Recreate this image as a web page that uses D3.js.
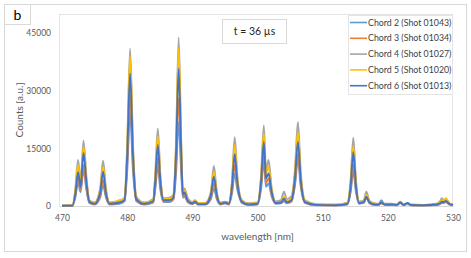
<!DOCTYPE html>
<html>
<head>
<meta charset="utf-8">
<script src="https://cdn.jsdelivr.net/npm/d3@7"></script>
<style>
  body { margin: 0; background: #fff; }
  svg text { font-family: Lato, "Open Sans", sans-serif; fill: #404040; }
</style>
</head>
<body>
<div id="result"></div>
<script>
// wavelength nodes (nm), shared by all series
const wavelength = [
  470.0, 471.6, 472.05, 472.46, 472.85, 473.3, 473.75, 474.2, 475.0, 475.85,
  476.3, 476.75, 477.3, 478.8, 479.6, 480.0, 480.45, 480.9, 481.4, 482.6,
  484.0, 484.3, 484.7, 485.1, 485.6, 486.5, 487.1, 487.5, 487.9, 488.3,
  488.55, 488.8, 489.3, 490.0, 490.4, 490.9, 492.0, 492.85, 493.3, 493.75,
  494.3, 495.0, 495.6, 496.1, 496.5, 496.9, 497.1, 497.6, 498.6, 500.0,
  500.55, 500.97, 501.3, 501.7, 502.15, 502.8, 503.6, 504.05, 504.5, 505.2,
  505.75, 506.2, 506.65, 507.3, 509.0, 512.0, 513.8, 514.3, 514.7, 515.1,
  515.6, 516.3, 516.7, 517.2, 518.0, 518.6, 519.0, 519.5, 520.6, 521.4,
  521.9, 522.4, 523.0, 523.6, 525.5, 527.5, 528.0, 528.3, 528.6, 528.9,
  529.4, 530.0
];

const chord2 = [
  30, 80, 2300, 6000, 3600, 9400, 4200, 800, 400, 2200,
  5500, 2200, 400, 600, 1200, 9100, 24200, 9100, 1300, 400,
  900, 4200, 10200, 4200, 1000, 1000, 1700, 8500, 21900, 8500,
  2200, 2500, 1000, 500, 900, 400, 400, 1800, 4600, 1800,
  400, 700, 400, 3400, 8500, 4300, 3000, 800, 300, 400,
  4500, 11500, 5000, 5900, 2600, 600, 700, 1200, 700, 1100,
  5400, 12000, 4900, 800, 200, 150, 400, 3700, 9000, 3700,
  600, 800, 2000, 700, 300, 400, 1500, 400, 300, 200,
  1000, 200, 800, 200, 150, 250, 500, 800, 800, 1000,
  400, 150
];
const chord3 = [
  50, 100, 2700, 7300, 4200, 10700, 4800, 900, 500, 2700,
  6800, 2600, 500, 800, 1400, 10900, 28900, 10900, 1500, 500,
  1100, 5000, 12500, 5000, 1200, 1300, 2000, 10800, 28000, 10800,
  2600, 3000, 1200, 600, 1000, 450, 450, 2300, 5900, 2300,
  500, 800, 500, 4200, 10700, 5200, 3500, 900, 350, 500,
  5400, 13700, 6000, 7200, 3200, 700, 800, 1700, 900, 1300,
  6100, 13700, 5500, 900, 250, 200, 500, 4500, 10900, 4500,
  700, 900, 2300, 800, 350, 350, 700, 350, 350, 250,
  800, 250, 500, 200, 150, 300, 600, 900, 900, 1200,
  500, 200
];
const chord4 = [
  150, 200, 4500, 12000, 6500, 17000, 7500, 1500, 900, 4500,
  11800, 4500, 900, 1300, 2200, 15500, 41000, 15500, 2500, 900,
  1800, 8000, 20200, 8000, 2000, 2200, 3000, 16500, 43900, 16500,
  4000, 4600, 2000, 1000, 1500, 800, 800, 3800, 10400, 3800,
  900, 1100, 900, 7000, 17900, 8000, 4700, 1500, 700, 900,
  8000, 21000, 9500, 12000, 5000, 1200, 1500, 3700, 1800, 2500,
  9500, 21900, 8500, 1500, 500, 400, 900, 7000, 17800, 7000,
  1200, 1500, 3700, 1300, 700, 600, 900, 600, 600, 500,
  1100, 500, 600, 400, 300, 600, 1200, 2000, 1500, 1800,
  800, 400
];
const chord5 = [
  100, 150, 3900, 10700, 5800, 15400, 6800, 1300, 800, 3900,
  10200, 3900, 800, 1500, 2000, 14500, 39000, 14500, 2200, 800,
  1600, 7300, 18200, 7300, 1800, 1900, 2700, 15500, 41000, 15500,
  3500, 4000, 1700, 900, 1300, 700, 700, 3300, 8900, 3300,
  800, 1000, 800, 6200, 15900, 7200, 4300, 1300, 600, 800,
  7300, 18900, 8400, 10200, 4400, 1000, 1100, 2400, 1300, 2000,
  8500, 19300, 7600, 1300, 400, 300, 800, 6100, 15600, 6100,
  1000, 1200, 2900, 1100, 600, 500, 800, 500, 500, 400,
  1000, 400, 500, 300, 250, 500, 900, 1500, 1400, 2000,
  800, 300
];
const chord6 = [
  50, 100, 3200, 8800, 5000, 13800, 6100, 1100, 600, 3400,
  8900, 3300, 600, 900, 1600, 13000, 34500, 13000, 1800, 600,
  1300, 6300, 15900, 6300, 1500, 1500, 2300, 13500, 35800, 13500,
  3000, 3500, 1400, 700, 1100, 500, 500, 2900, 7600, 2900,
  600, 900, 600, 5300, 13500, 6200, 3800, 1100, 400, 600,
  6500, 16700, 7200, 8500, 3800, 800, 900, 1900, 1000, 1500,
  7300, 16700, 6600, 1000, 300, 200, 600, 5400, 14000, 5400,
  800, 1000, 2400, 900, 400, 400, 900, 400, 400, 300,
  900, 300, 700, 250, 200, 400, 700, 1100, 1000, 1300,
  600, 250
];

const seriesNames = [
  'Chord 2 (Shot 01043)',
  'Chord 3 (Shot 01034)',
  'Chord 4 (Shot 01027)',
  'Chord 5 (Shot 01020)',
  'Chord 6 (Shot 01013)'
];
const seriesColors = ['#5b9bd5', '#ed7d31', '#a5a5a5', '#ffc000', '#4472c4'];
const xTicks = [470, 480, 490, 500, 510, 520, 530];
const yTicks = [0, 15000, 30000, 45000];

const width = 471;
const height = 258;
const plot = { left: 62, right: 453, top: 14, bottom: 206 };

const svg = d3.select('#result')
  .append('svg')
  .attr('width', width)
  .attr('height', height);

svg.append('rect')
  .attr('width', width)
  .attr('height', height)
  .attr('fill', '#fff');

// outer chart frame
svg.append('rect')
  .attr('x', 4.5).attr('y', 4.5)
  .attr('width', 462).attr('height', 247)
  .attr('fill', 'none')
  .attr('stroke', '#d9d9d9');

// panel letter box
svg.append('rect')
  .attr('x', 4.5).attr('y', 4.5)
  .attr('width', 26).attr('height', 20)
  .attr('fill', '#fff')
  .attr('stroke', '#d9d9d9');
svg.append('text')
  .attr('x', 17.5).attr('y', 19.5)
  .attr('text-anchor', 'middle')
  .style('font-size', '14px')
  .style('fill', '#000')
  .text('b');

const xScale = d3.scaleLinear()
  .domain([470, 530])
  .range([plot.left, plot.right]);

const yScale = d3.scaleLinear()
  .domain([0, 50000])
  .range([plot.bottom, plot.top]);

// plot area frame
svg.append('rect')
  .attr('x', plot.left - 2.5).attr('y', plot.top + 0.5)
  .attr('width', plot.right - plot.left + 2).attr('height', plot.bottom - plot.top)
  .attr('fill', 'none')
  .attr('stroke', '#e4e4e4');

// x axis
const xAxis = svg.append('g')
  .attr('transform', `translate(0, ${plot.bottom})`)
  .call(d3.axisBottom(xScale).tickValues(xTicks).tickSize(0).tickPadding(9));
xAxis.select('.domain').attr('stroke', '#d9d9d9');
xAxis.selectAll('text').style('font-size', '8.5px').style('fill', '#595959')
  .style('font-family', 'Lato, sans-serif');

// y axis
const yAxis = svg.append('g')
  .attr('transform', `translate(${plot.left - 11}, 0)`)
  .call(d3.axisLeft(yScale).tickValues(yTicks).tickSize(0).tickPadding(0).tickFormat(d3.format('d')));
yAxis.select('.domain').remove();
yAxis.selectAll('text').style('font-size', '8.5px').style('fill', '#595959')
  .style('font-family', 'Lato, sans-serif');

// axis titles
svg.append('text')
  .attr('transform', `translate(23, ${(plot.top + plot.bottom) / 2}) rotate(-90)`)
  .attr('text-anchor', 'middle')
  .style('font-size', '10px')
  .style('fill', '#595959')
  .text('Counts [a.u.]');

svg.append('text')
  .attr('x', (plot.left + plot.right) / 2)
  .attr('y', 240)
  .attr('text-anchor', 'middle')
  .style('font-size', '10px')
  .style('fill', '#595959')
  .text('wavelength [nm]');

// spectra
const allSeries = [chord2, chord3, chord4, chord5, chord6];
const line = d3.line()
  .x(d => xScale(d[0]))
  .y(d => yScale(d[1]))
  .curve(d3.curveMonotoneX);

const linesG = svg.append('g');
allSeries.forEach((vals, i) => {
  linesG.append('path')
    .datum(d3.zip(wavelength, vals))
    .attr('fill', 'none')
    .attr('stroke', seriesColors[i])
    .attr('stroke-width', 1.9)
    .attr('stroke-linejoin', 'round')
    .attr('d', line);
});

// time label
svg.append('rect')
  .attr('x', 222.5).attr('y', 19.5)
  .attr('width', 64).attr('height', 24)
  .attr('fill', '#fff')
  .attr('stroke', '#d9d9d9');
svg.append('text')
  .attr('x', 254.5).attr('y', 35)
  .attr('text-anchor', 'middle')
  .style('font-size', '10.5px')
  .style('fill', '#262626')
  .text('t = 36 µs');

// legend
const legend = svg.append('g');
legend.append('rect')
  .attr('x', 348.5).attr('y', 15.5)
  .attr('width', 104).attr('height', 79)
  .attr('fill', '#fff')
  .attr('stroke', '#e4e4e4');

seriesNames.forEach((name, i) => {
  const y = 22.5 + i * 15.8;
  legend.append('line')
    .attr('x1', 350).attr('x2', 367)
    .attr('y1', y).attr('y2', y)
    .attr('stroke', seriesColors[i])
    .attr('stroke-width', 1.6);
  legend.append('text')
    .attr('x', 368).attr('y', y + 3)
    .style('font-size', '8.8px')
    .style('fill', '#404040')
    .text(name);
});
</script>
</body>
</html>
